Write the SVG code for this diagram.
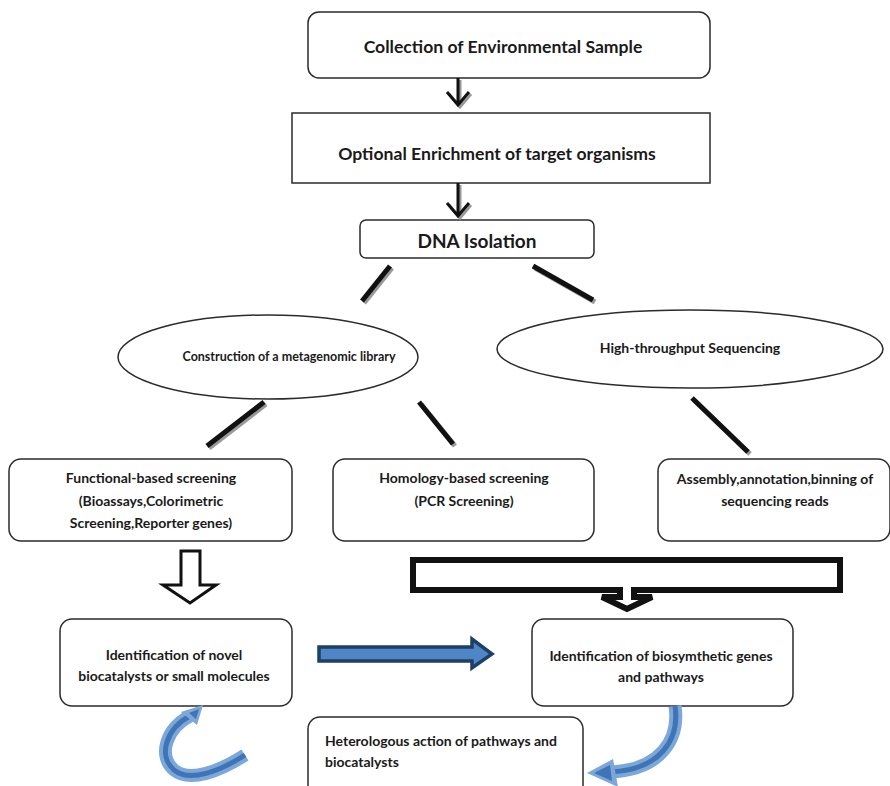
<svg xmlns="http://www.w3.org/2000/svg" width="890" height="786" viewBox="0 0 890 786">
  <defs>
    <style>
      .box { fill: #fff; stroke: #2b2b2b; stroke-width: 1.5; }
      .t { font-family: Lato, "Liberation Sans", sans-serif; font-weight: bold; fill: #1a1a1a; }
      .big { font-size: 17.6px; }
      .sm { font-size: 14px; }
      .xs { font-size: 12.5px; }
      .mid { text-anchor: middle; }
      .bar { stroke: #111; stroke-width: 5; stroke-linecap: butt; }
      .barsh { stroke: #999; stroke-width: 5; stroke-linecap: butt; }
      .thin { stroke: #111; stroke-width: 3; fill: none; }
      .thinsh { stroke: #999; stroke-width: 3; fill: none; }
      .curveOut { fill: none; stroke: #7ba7d9; stroke-width: 13; }
      .curveIn { fill: none; stroke: #3f74b6; stroke-width: 5; }
    </style>
  </defs>

  <!-- nodes -->
  <g id="collection">
    <rect class="box" x="308" y="12" width="402" height="66" rx="11"/>
    <text class="t big mid" x="503" y="53">Collection of Environmental Sample</text>
  </g>
  <g id="enrichment">
    <rect class="box" x="292" y="113" width="418" height="70"/>
    <text class="t big mid" x="497" y="160">Optional Enrichment of target organisms</text>
  </g>
  <g id="dna">
    <rect class="box" x="360" y="220" width="234" height="38" rx="6"/>
    <text class="t mid" style="font-size:19px" x="477" y="248">DNA Isolation</text>
  </g>
  <g id="library">
    <ellipse class="box" cx="268" cy="357" rx="150" ry="42"/>
    <text class="t xs mid" x="289" y="361">Construction of a metagenomic library</text>
  </g>
  <g id="sequencing">
    <ellipse class="box" cx="690" cy="349" rx="193" ry="39"/>
    <text class="t sm mid" x="690" y="353">High-throughput Sequencing</text>
  </g>
  <g id="functional">
    <rect class="box" x="9" y="459" width="283" height="82" rx="12"/>
    <text class="t sm mid" x="151" y="483">Functional-based screening</text>
    <text class="t sm mid" x="151" y="506">(Bioassays,Colorimetric</text>
    <text class="t sm mid" x="151" y="528">Screening,Reporter genes)</text>
  </g>
  <g id="homology">
    <rect class="box" x="333" y="459" width="261" height="82" rx="12"/>
    <text class="t sm mid" x="464" y="483">Homology-based screening</text>
    <text class="t sm mid" x="464" y="506">(PCR Screening)</text>
  </g>
  <g id="assembly">
    <rect class="box" x="658" y="459" width="232" height="82" rx="12"/>
    <text class="t sm mid" x="775" y="484">Assembly,annotation,binning of</text>
    <text class="t sm mid" x="775" y="506">sequencing reads</text>
  </g>
  <g id="novel">
    <rect class="box" x="60" y="619" width="232" height="87" rx="12"/>
    <text class="t sm mid" x="174" y="660">Identification of novel</text>
    <text class="t sm mid" x="174" y="681">biocatalysts or small molecules</text>
  </g>
  <g id="biosynthetic">
    <rect class="box" x="532" y="619" width="261" height="87" rx="12"/>
    <text class="t sm mid" x="661" y="661">Identification of biosymthetic genes</text>
    <text class="t sm mid" x="661" y="682">and pathways</text>
  </g>
  <g id="heterologous">
    <rect class="box" x="308" y="717" width="275" height="90" rx="12"/>
    <text class="t sm" x="325" y="746">Heterologous action of pathways and</text>
    <text class="t sm" x="325" y="767">biocatalysts</text>
  </g>

  <!-- connectors -->
  <g id="connectors">
    <!-- chevron arrows -->
    <path class="thinsh" d="M460,80 V105 M449,94 L460,107 L471,94"/>
    <path class="thin" d="M458,78 V103 M447,92 L458,105 L469,92"/>
    <path class="thinsh" d="M460,185 V216 M449,205 L460,218 L471,205"/>
    <path class="thin" d="M458,183 V214 M447,203 L458,216 L469,203"/>

    <!-- straight bars -->
    <line class="barsh" x1="392" y1="268" x2="364" y2="303"/>
    <line class="bar" x1="390" y1="266" x2="362" y2="301"/>
    <line class="barsh" x1="535" y1="268" x2="595" y2="302"/>
    <line class="bar" x1="533" y1="266" x2="593" y2="300"/>
    <line class="barsh" x1="266" y1="404" x2="209" y2="448"/>
    <line class="bar" x1="264" y1="402" x2="207" y2="446"/>
    <line class="barsh" x1="421" y1="404" x2="455" y2="446"/>
    <line class="bar" x1="419" y1="402" x2="453" y2="444"/>
    <line class="barsh" x1="694" y1="400" x2="750" y2="454"/>
    <line class="bar" x1="692" y1="398" x2="748" y2="452"/>

    <!-- hollow block arrow -->
    <path d="M181,551 H200 V585 H216 L190,603 L163,585 H181 Z" fill="#fff" stroke="#111" stroke-width="3" stroke-linejoin="miter"/>

    <!-- merge callout -->
    <path d="M413,560 H840 V590 H634 V597 H652 L627,609 L602,597 H620 V590 H413 Z" fill="#fff" stroke="#111" stroke-width="6" stroke-linejoin="miter"/>

    <!-- blue block arrow -->
    <path d="M319,647 H472 V639 L492,654 L472,668 V661 H319 Z" fill="#4f86c6" stroke="#1e3f66" stroke-width="3.5" stroke-linejoin="miter"/>

    <!-- curved arrow, left -->
    <path class="curveOut" d="M245,755 C220,771 190,783 174,770 C157,755 167,728 190,716"/>
    <path class="curveIn" d="M245,755 C220,771 190,783 174,770 C157,755 167,728 190,716"/>
    <polygon points="203,705 181,712 197,725" fill="#7ba7d9"/>
    <polygon points="199,709 189,713 196,719" fill="#3f74b6"/>

    <!-- curved arrow, right -->
    <path class="curveOut" d="M675,706 C680,740 660,770 610,772"/>
    <path class="curveIn" d="M675,706 C680,740 660,770 610,772"/>
    <polygon points="587,773 613,759 618,787" fill="#7ba7d9"/>
    <polygon points="594,773 610,765 612,781" fill="#3f74b6"/>
  </g>
</svg>
